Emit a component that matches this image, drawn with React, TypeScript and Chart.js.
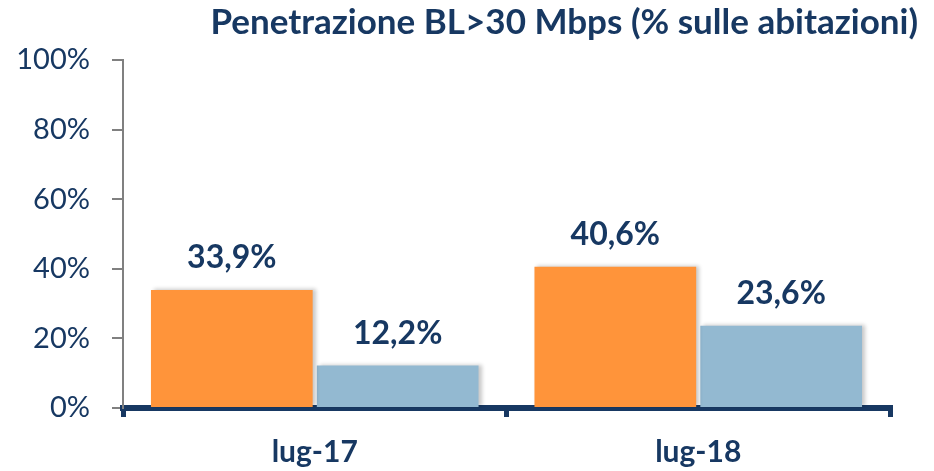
import React, { useEffect, useRef } from "react";
import { Chart, registerables } from "chart.js";

Chart.register(...registerables);

const categories = ["lug-17", "lug-18"];
const seriesA = [33.9, 40.6];
const seriesB = [12.2, 23.6];
const yTicks = [0, 20, 40, 60, 80, 100];
const titleText = "Penetrazione BL>30 Mbps (% sulle abitazioni)";

const NAVY = "#173862";
const ORANGE = "#FF943A";
const BLUE = "#93B9D1";
const FONT = "Lato, 'Noto Sans', sans-serif";

const fmt = (v: number) => v.toFixed(1).replace(".", ",") + "%";

const shadowPlugin = {
  id: "barShadow",
  beforeDatasetDraw(chart: any) {
    const ctx = chart.ctx;
    ctx.save();
    ctx.shadowColor = "rgba(0,0,0,0.22)";
    ctx.shadowBlur = 4;
    ctx.shadowOffsetX = 3;
    ctx.shadowOffsetY = -1;
  },
  afterDatasetDraw(chart: any) {
    chart.ctx.restore();
  },
};

const labelPlugin = {
  id: "valueLabels",
  afterDatasetsDraw(chart: any) {
    const ctx = chart.ctx;
    ctx.save();
    ctx.font = `bold 32px ${FONT}`;
    ctx.fillStyle = NAVY;
    ctx.textAlign = "center";
    ctx.textBaseline = "bottom";
    chart.data.datasets.forEach((ds: any, i: number) => {
      const meta = chart.getDatasetMeta(i);
      meta.data.forEach((bar: any, j: number) => {
        ctx.fillText(fmt(ds.data[j]), bar.x, bar.y - 16);
      });
    });
    ctx.restore();
  },
};

export default function App() {
  const ref = useRef<HTMLCanvasElement | null>(null);

  useEffect(() => {
    document.body.style.margin = "0";
    if (!ref.current) return;
    const chart = new Chart(ref.current, {
      type: "bar",
      data: {
        labels: categories,
        datasets: [
          {
            data: seriesA,
            backgroundColor: ORANGE,
            barPercentage: 0.975,
            categoryPercentage: 0.865,
          },
          {
            data: seriesB,
            backgroundColor: BLUE,
            barPercentage: 0.975,
            categoryPercentage: 0.865,
          },
        ],
      },
      options: {
        animation: false,
        responsive: false,
        maintainAspectRatio: false,
        layout: { padding: { left: 0, right: 16, top: 0, bottom: 0 } },
        plugins: {
          legend: { display: false },
          tooltip: { enabled: false },
          title: {
            display: true,
            text: titleText,
            align: "end",
            color: NAVY,
            font: { family: FONT, size: 35, weight: "bold" },
            padding: { top: 2, bottom: 16 },
          },
        },
        scales: {
          x: {
            offset: true,
            grid: {
              display: true,
              drawOnChartArea: false,
              offset: true,
              color: NAVY,
              lineWidth: 5,
              tickLength: 9,
            },
            border: { display: true, color: NAVY, width: 6 },
            ticks: {
              color: NAVY,
              font: { family: FONT, size: 30, weight: "bold" },
              padding: 17,
            },
            afterFit(axis: any) {
              axis.height = 63;
            },
          },
          y: {
            min: 0,
            max: 100,
            afterBuildTicks(axis: any) {
              axis.ticks = yTicks.map((v) => ({ value: v }));
            },
            grid: {
              display: true,
              drawOnChartArea: false,
              color: "#808080",
              lineWidth: 2,
              tickLength: 11,
            },
            border: { display: true, color: "#808080", width: 2 },
            ticks: {
              color: NAVY,
              font: { family: FONT, size: 29 },
              padding: 22,
              callback: (v: any) => v + "%",
            },
            afterFit(axis: any) {
              axis.width = 123;
            },
          },
          y2: {
            position: "right",
            display: true,
            grid: { display: false },
            border: { display: false },
            ticks: { display: false },
            afterFit(axis: any) {
              axis.width = 28;
            },
          },
        },
      },
      plugins: [shadowPlugin, labelPlugin],
    });
    return () => chart.destroy();
  }, []);

  return (
    <div style={{ width: 934, height: 471 }}>
      <canvas ref={ref} width={934} height={471} style={{ display: "block" }} />
    </div>
  );
}
